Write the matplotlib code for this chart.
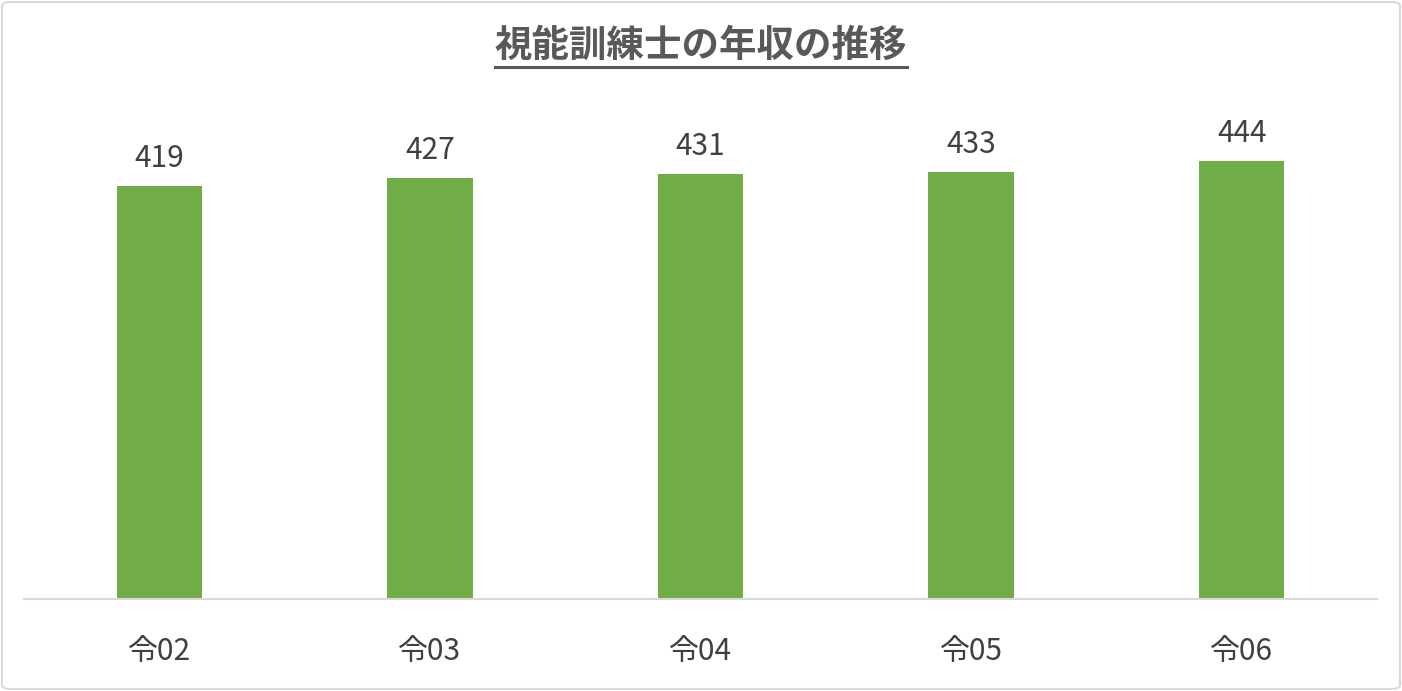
import matplotlib
matplotlib.use("Agg")
import matplotlib.pyplot as plt
from matplotlib.patches import FancyBboxPatch
from matplotlib.lines import Line2D

plt.rcParams['font.family'] = ['Noto Sans CJK JP', 'DejaVu Sans']

years = ["令02", "令03", "令04", "令05", "令06"]
salary = [419, 427, 431, 433, 444]
title = "視能訓練士の年収の推移"

W, H = 1402, 691
fig = plt.figure(figsize=(W / 100, H / 100), dpi=100)
ax = fig.add_axes([24 / W, 1 - 599 / H, (1377 - 24) / W, 493 / H])

x = range(len(years))
bars = ax.bar(x, salary, width=0.315, color="#70AD47", zorder=2)
for xi, v in zip(x, salary):
    ax.annotate(str(v), (xi, v), xytext=(0, 13.5), textcoords="offset points",
                ha="center", va="baseline", fontsize=21.5, color="#404040")

ax.set_xlim(-0.5, len(years) - 0.5)
ax.set_ylim(0, 500)
ax.set_xticks(list(x))
ax.set_xticklabels(years, fontsize=21.5, color="#404040")
ax.tick_params(axis="x", length=0, pad=27)
ax.set_yticks([])
for s in ["top", "right", "left"]:
    ax.spines[s].set_visible(False)
ax.spines["bottom"].set_color("#D9D9D9")
ax.spines["bottom"].set_linewidth(1.5)

# title with underline
t = fig.text(0.5, 1 - 45 / H, title, ha="center", va="center", fontsize=27,
             fontweight="bold", color="#595959")
fig.canvas.draw()
bb = t.get_window_extent().transformed(fig.transFigure.inverted())
uy = 1 - 66.5 / H
fig.add_artist(Line2D([bb.x0, bb.x1], [uy, uy], transform=fig.transFigure,
                      color="#595959", linewidth=2.2))

# outer frame
frame = FancyBboxPatch((2 / W, 2 / H), 1 - 4 / W, 1 - 4 / H,
                       boxstyle="round,pad=0,rounding_size=0.006",
                       transform=fig.transFigure, fill=False,
                       edgecolor="#D9D9D9", linewidth=1.5)
fig.add_artist(frame)

fig.savefig("out.png", dpi=100, facecolor="white")
